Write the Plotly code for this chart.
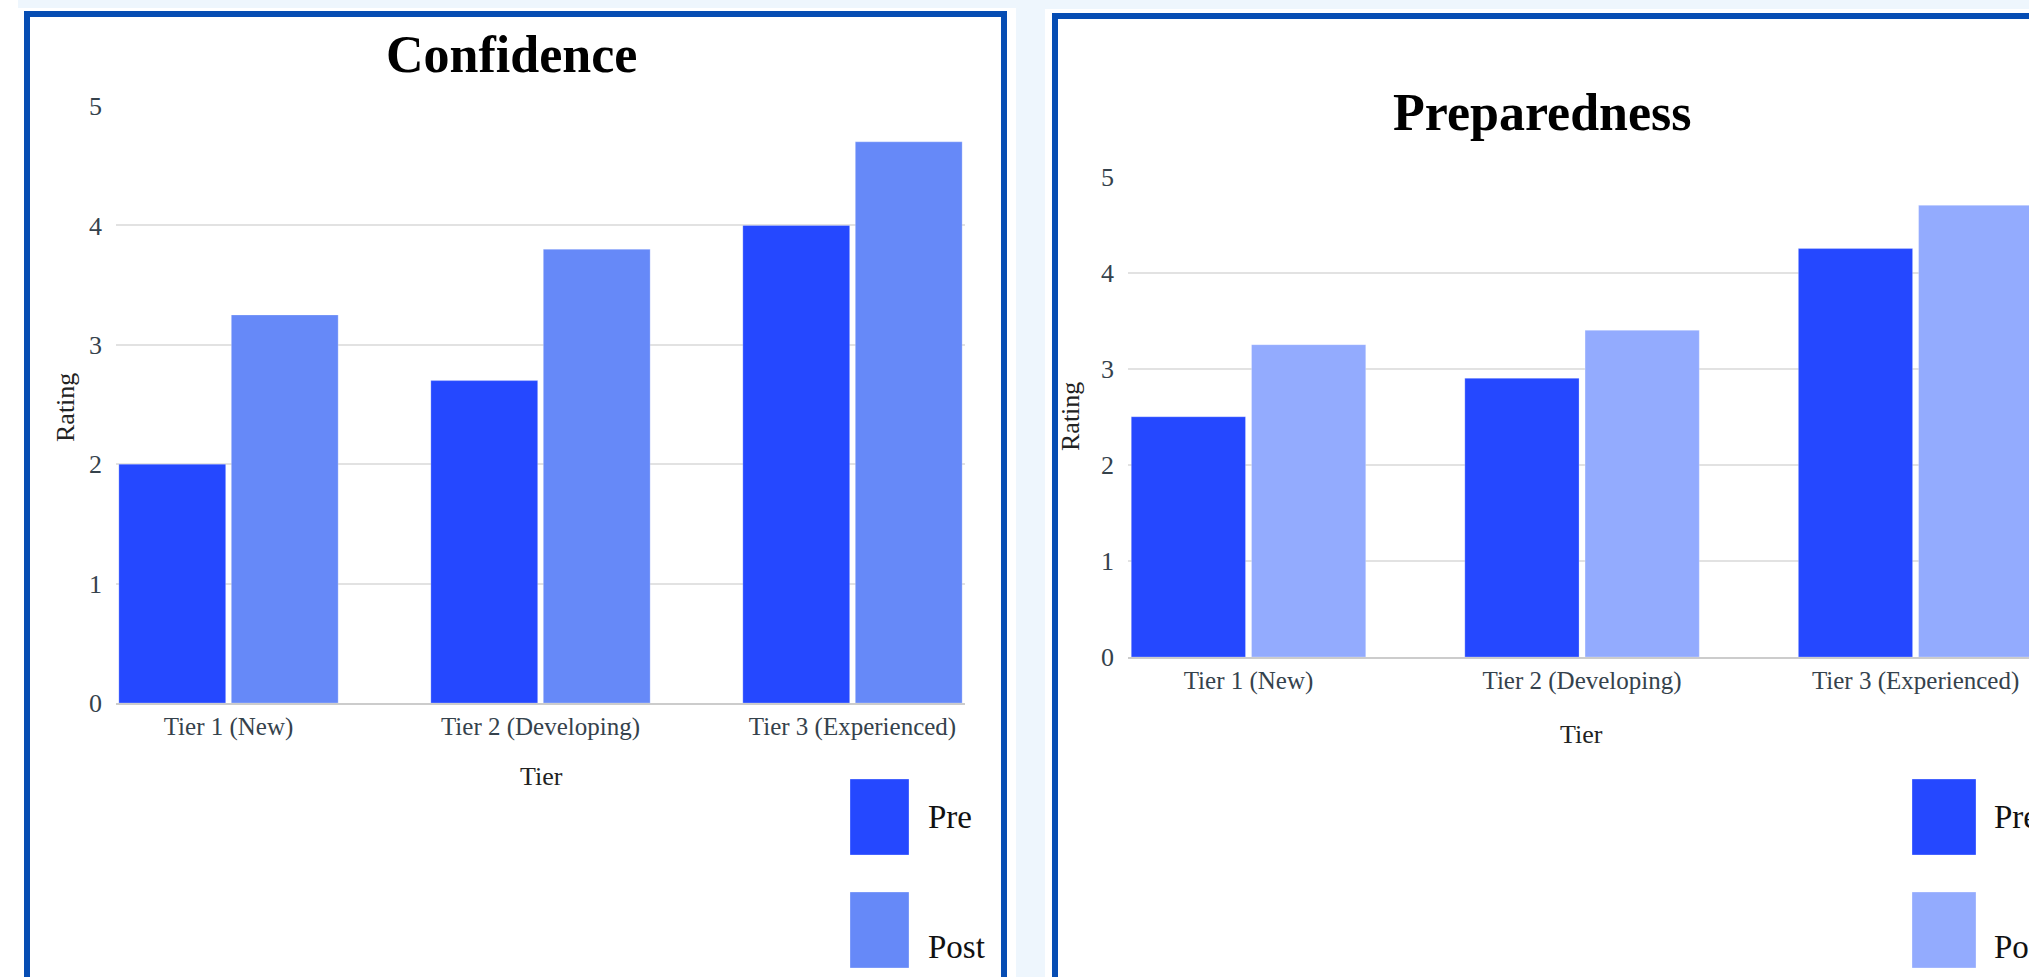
import plotly.graph_objects as go

# ---------------- data ----------------
categories = ["Tier 1 (New)", "Tier 2 (Developing)", "Tier 3 (Experienced)"]
series_names = ["Pre", "Post"]
confidence_pre = [2.0, 2.7, 4.0]
confidence_post = [3.25, 3.8, 4.7]
preparedness_pre = [2.5, 2.9, 4.25]
preparedness_post = [3.25, 3.4, 4.7]
y_ticks = [0, 1, 2, 3, 4, 5]
panel_titles = ["Confidence", "Preparedness"]
x_title = "Tier"
y_title = "Rating"

# ---------------- style ----------------
W, H = 2029, 977
PRE = "#2548FF"
POST_L = "#6689F8"
POST_R = "#93ABFE"
BORDER = "#064DB3"
PAGE_BG = "#EEF6FD"
GRID = "#E2E2E2"
BASE = "#CCCCCC"
TICK_C = "#35424C"
FONT = "Liberation Serif, Times New Roman, serif"


def px(x):
    return x / W


def py(y):
    return 1 - y / H


fig = go.Figure()

bar_line = dict(width=1, color="rgba(255,255,255,0.25)")
fig.add_trace(go.Bar(x=categories, y=confidence_pre, name=series_names[0],
                     marker=dict(color=PRE, line=bar_line),
                     xaxis="x", yaxis="y", showlegend=False))
fig.add_trace(go.Bar(x=categories, y=confidence_post, name=series_names[1],
                     marker=dict(color=POST_L, line=bar_line),
                     xaxis="x", yaxis="y", showlegend=False))
fig.add_trace(go.Bar(x=categories, y=preparedness_pre, name=series_names[0],
                     marker=dict(color=PRE, line=bar_line),
                     xaxis="x2", yaxis="y2", showlegend=False))
fig.add_trace(go.Bar(x=categories, y=preparedness_post, name=series_names[1],
                     marker=dict(color=POST_R, line=bar_line),
                     xaxis="x2", yaxis="y2", showlegend=False))

xaxis_common = dict(type="category", showgrid=False, ticks="", showline=True,
                    linecolor=BASE, linewidth=2, fixedrange=True, automargin=False,
                    tickfont=dict(family=FONT, size=25, color=TICK_C))
yaxis_common = dict(range=[0, 5], tickvals=y_ticks, showgrid=True, gridcolor=GRID,
                    gridwidth=2, zeroline=False, ticks="", fixedrange=True, automargin=False,
                    ticklabelstandoff=13,
                    tickfont=dict(family=FONT, size=26, color=TICK_C))

fig.update_layout(
    width=W, height=H,
    autosize=False,
    margin=dict(l=0, r=0, t=0, b=0, pad=0, autoexpand=False),
    paper_bgcolor=PAGE_BG,
    plot_bgcolor="rgba(0,0,0,0)",
    bargap=0.279, bargroupgap=0.05, barmode="group",
    showlegend=False,
    xaxis=dict(domain=[px(116), px(965)], range=[-0.3606, 2.3606], anchor="y", **xaxis_common),
    yaxis=dict(domain=[py(703), py(106)], anchor="x", **yaxis_common),
    xaxis2=dict(domain=[px(1128), 1.0], range=[-0.3613, 2.340], anchor="y2", **xaxis_common),
    yaxis2=dict(domain=[py(657), py(176.5)], anchor="x2", **yaxis_common),
)

shapes = []
# cards (white) and page strips
shapes.append(dict(type="rect", xref="paper", yref="paper", x0=px(0), x1=px(1016),
                   y0=py(8), y1=py(1000), fillcolor="white", line=dict(width=0), layer="below"))
shapes.append(dict(type="rect", xref="paper", yref="paper", x0=px(0), x1=px(18),
                   y0=py(0), y1=py(8), fillcolor="white", line=dict(width=0), layer="below"))
shapes.append(dict(type="rect", xref="paper", yref="paper", x0=px(1045), x1=px(2100),
                   y0=py(9), y1=py(1000), fillcolor="white", line=dict(width=0), layer="below"))
# card borders
shapes.append(dict(type="rect", xref="paper", yref="paper", x0=px(27), x1=px(1004),
                   y0=py(14), y1=py(1000), fillcolor="rgba(0,0,0,0)",
                   line=dict(width=6, color=BORDER), layer="below"))
shapes.append(dict(type="rect", xref="paper", yref="paper", x0=px(1055), x1=px(2100),
                   y0=py(16), y1=py(1000), fillcolor="rgba(0,0,0,0)",
                   line=dict(width=6, color=BORDER), layer="below"))

# legend swatches (drawn manually to match size)
legend_specs = [
    (850, 909, [PRE, POST_L], 926),
    (1912, 1976, [PRE, POST_R], 1992),
]
swatch_rows = [(779, 855, 817), (892, 968, 947)]
annotations = []
for xl, xr, cols, tx in legend_specs:
    for (y0, y1, ty), col, name in zip(swatch_rows, cols, series_names):
        shapes.append(dict(type="rect", xref="paper", yref="paper", x0=px(xl), x1=px(xr),
                           y0=py(y1), y1=py(y0), fillcolor=col,
                           line=dict(width=1, color="rgba(255,255,255,0.3)")))
        annotations.append(dict(xref="paper", yref="paper", x=px(tx), y=py(ty), text=name,
                                showarrow=False, xanchor="left", yanchor="middle",
                                font=dict(family=FONT, size=33, color="#111111")))

# titles
annotations.append(dict(xref="paper", yref="paper", x=px(511), y=py(54), text="<b>%s</b>" % panel_titles[0],
                        showarrow=False, xanchor="center", yanchor="middle",
                        font=dict(family=FONT, size=52, color="#000000")))
annotations.append(dict(xref="paper", yref="paper", x=px(1542), y=py(113), text="<b>%s</b>" % panel_titles[1],
                        showarrow=False, xanchor="center", yanchor="middle",
                        font=dict(family=FONT, size=52, color="#000000")))
# axis titles
for (xx, yy) in [(541, 776), (1581, 734)]:
    annotations.append(dict(xref="paper", yref="paper", x=px(xx), y=py(yy), text=x_title,
                            showarrow=False, xanchor="center", yanchor="middle",
                            font=dict(family=FONT, size=26, color="#222222")))
for (xx, yy) in [(65, 408), (1071, 417)]:
    annotations.append(dict(xref="paper", yref="paper", x=px(xx), y=py(yy), text=y_title,
                            showarrow=False, xanchor="center", yanchor="middle", textangle=-90,
                            font=dict(family=FONT, size=26, color="#222222")))

fig.update_layout(shapes=shapes, annotations=annotations)

fig.write_html("out.html", config={"displayModeBar": False},
               post_script="document.body.style.margin='0';document.body.style.overflow='hidden';")
